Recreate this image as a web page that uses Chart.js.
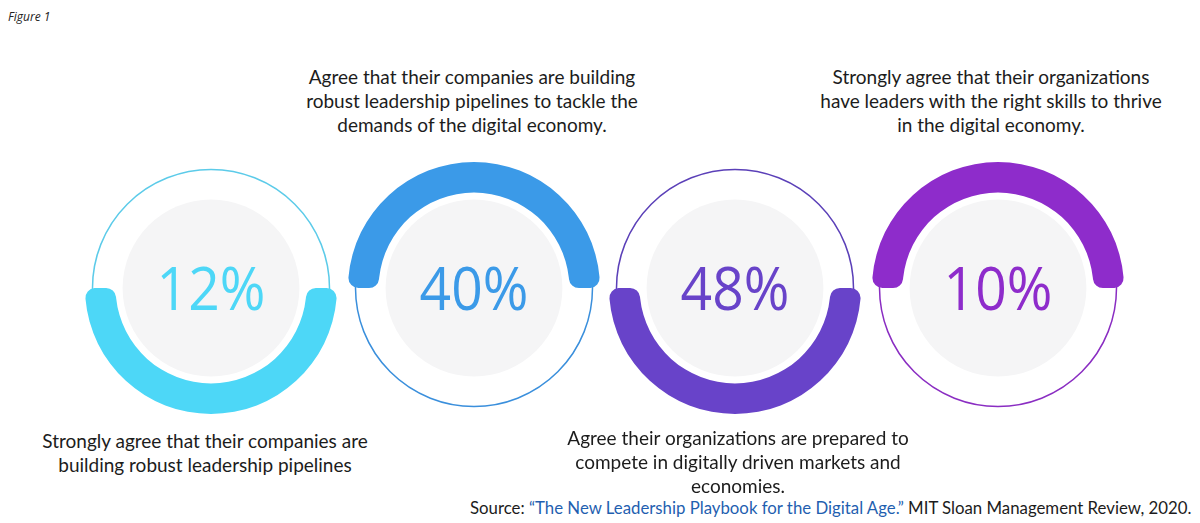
<!DOCTYPE html>
<html>
<head>
<meta charset="utf-8">
<script src="https://cdn.jsdelivr.net/npm/chart.js@4.4.1/dist/chart.umd.min.js"></script>
<style>
  body { margin: 0; width: 1200px; height: 523px; background: #fff; position: relative; overflow: hidden; font-family: Lato, "Open Sans", sans-serif; }
  .ring { position: absolute; width: 280px; height: 280px; }
  .lbl { position: absolute; transform: translateX(-50%); text-align: center; white-space: nowrap; font-size: 19px; line-height: 24px; color: #1c1c1c; }
  #fig { position: absolute; left: 8px; top: 8px; font-size: 12px; font-style: italic; color: #222; font-family: "Open Sans", sans-serif; }
  #src { position: absolute; left: 470px; top: 497px; font-size: 16.8px; color: #1c1c1c; white-space: nowrap; }
  #src span { color: #1f5fb0; }
</style>
</head>
<body>
<div id="fig">Figure 1</div>
<div id="src">Source: <span>“The New Leadership Playbook for the Digital Age.”</span> MIT Sloan Management Review, 2020.</div>

<script>
// --- DATA ---
const percents = [12, 40, 48, 10];
const arcSides = ['bottom', 'top', 'bottom', 'top'];
const arcSplit = [50, 50];   // thick arc covers half of each ring
const statements = [
    ['Strongly agree that their companies are', 'building robust leadership pipelines'],
    ['Agree that their companies are building', 'robust leadership pipelines to tackle the', 'demands of the digital economy.'],
    ['Agree their organizations are prepared to', 'compete in digitally driven markets and', 'economies.'],
    ['Strongly agree that their organizations', 'have leaders with the right skills to thrive', 'in the digital economy.']
];
const arcColors  = ['#4dd7f7', '#3b9ae8', '#6843c9', '#8e2ccb'];
const thinColors = ['#5ccbe9', '#3a8fdc', '#5b40b8', '#8a2dc2'];

// --- LAYOUT ---
const centerX = [211, 474, 735, 998];
const labelX  = [205, 472, 738, 991];
const labelY  = [429, 65, 426, 65];
const centerY = 288;

// grey disk + thin outline behind the thick half arc, value in the middle
const ringBackdrop = {
    id: 'ringBackdrop',
    beforeDatasetsDraw(chart, args, opts) {
        const arc = chart.getDatasetMeta(0).data[0];
        const ctx = chart.ctx;
        ctx.save();
        ctx.beginPath();
        ctx.arc(arc.x, arc.y, arc.innerRadius - 7, 0, Math.PI * 2);
        ctx.fillStyle = '#f5f5f6';
        ctx.fill();
        ctx.beginPath();
        ctx.arc(arc.x, arc.y, arc.outerRadius - 7.5, 0, Math.PI * 2);
        ctx.lineWidth = 1.5;
        ctx.strokeStyle = opts.thin;
        ctx.stroke();
        ctx.restore();
    },
    afterDatasetsDraw(chart, args, opts) {
        const arc = chart.getDatasetMeta(0).data[0];
        const ctx = chart.ctx;
        ctx.save();
        ctx.font = '400 60px "Open Sans"';
        ctx.fillStyle = opts.color;
        ctx.textAlign = 'center';
        ctx.textBaseline = 'alphabetic';
        ctx.translate(arc.x, arc.y + 22);
        ctx.scale(0.92, 1);
        ctx.fillText(opts.text, 0, 0);
        ctx.restore();
    }
};

percents.forEach((p, i) => {
    const canvas = document.createElement('canvas');
    canvas.className = 'ring';
    canvas.width = 280;
    canvas.height = 280;
    canvas.style.left = (centerX[i] - 140) + 'px';
    canvas.style.top = (centerY - 140) + 'px';
    document.body.appendChild(canvas);

    new Chart(canvas.getContext('2d'), {
        type: 'doughnut',
        data: {
            labels: ['arc', 'rest'],
            datasets: [{
                data: arcSplit,
                backgroundColor: [arcColors[i], 'rgba(0,0,0,0)'],
                borderWidth: 0,
                borderRadius: 10
            }]
        },
        options: {
            responsive: false,
            animation: false,
            events: [],
            radius: 126,
            cutout: 106,
            rotation: arcSides[i] === 'bottom' ? 90 : -90,
            layout: { padding: 0 },
            plugins: {
                legend: { display: false },
                tooltip: { enabled: false },
                ringBackdrop: { thin: thinColors[i], color: arcColors[i], text: p + '%' }
            }
        },
        plugins: [ringBackdrop]
    });

    // statement text, above rings with top arcs, below the others
    const lbl = document.createElement('div');
    lbl.className = 'lbl';
    lbl.innerHTML = statements[i].join('<br>');
    lbl.style.left = labelX[i] + 'px';
    lbl.style.top = labelY[i] + 'px';
    document.body.appendChild(lbl);
});
</script>
</body>
</html>
